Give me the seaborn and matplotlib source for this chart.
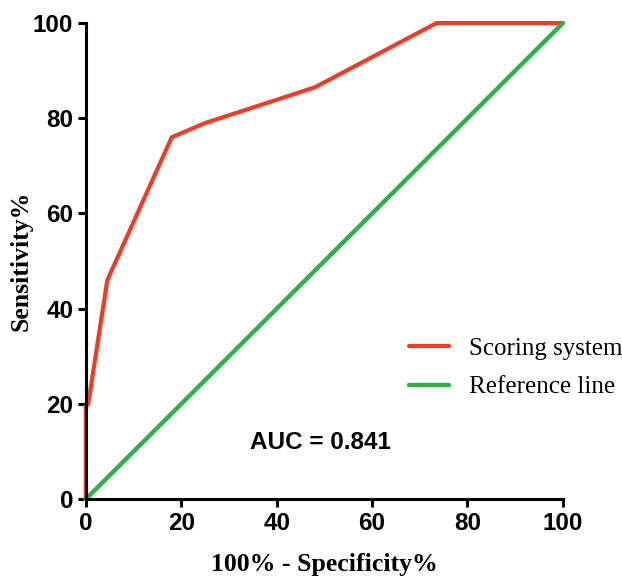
import matplotlib
matplotlib.use('Agg')
import matplotlib.pyplot as plt
import pandas as pd
import seaborn as sbn

# ROC curve values
fpr = [0, 0, 0.5, 4.5, 18, 25, 48, 73.5, 100]
tpr = [0, 19.5, 20, 46, 76, 79, 86.5, 100, 100]
ref_x = [0, 100]
ref_y = [0, 100]
ticks = [0, 20, 40, 60, 80, 100]
auc_text = 'AUC = 0.841'

sbn.set_style('ticks')
plt.rcParams['font.family'] = ['Liberation Sans', 'DejaVu Sans']
plt.rcParams['text.color'] = 'black'
plt.rcParams['axes.labelcolor'] = 'black'
plt.rcParams['xtick.color'] = 'black'
plt.rcParams['ytick.color'] = 'black'
plt.rcParams['axes.edgecolor'] = 'black'

rocDF = pd.DataFrame({'x': fpr, 'y': tpr})
refDF = pd.DataFrame({'x': ref_x, 'y': ref_y})

fig = plt.figure(figsize=(6.22, 5.77), dpi=100)
ax = fig.add_axes([0.138, 0.135, 0.767, 0.825])

sbn.lineplot(data=rocDF, x='x', y='y', sort=False, estimator=None, color='#f23a24',
             linewidth=3, label='Scoring system', ax=ax)
sbn.lineplot(data=refDF, x='x', y='y', sort=False, estimator=None, color='#2fb14a',
             linewidth=3.2, label='Reference line', ax=ax)

ax.set_xlim(0, 100)
ax.set_ylim(0, 100)
ax.set_xticks(ticks)
ax.set_yticks(ticks)
ax.tick_params(width=2.2, length=6, labelsize=17.5, pad=3)
for lab in ax.get_xticklabels() + ax.get_yticklabels():
    lab.set_fontweight('bold')
for s in ['left', 'bottom']:
    ax.spines[s].set_linewidth(2.2)
sbn.despine(ax=ax)
for l in ax.get_lines():
    l.set_clip_on(False)

ax.set_xlabel('100% - Specificity%', family='Liberation Serif', fontweight='bold',
              fontsize=18.5)
ax.set_ylabel('Sensitivity%', family='Liberation Serif', fontweight='bold',
              fontsize=18.5)
ax.xaxis.set_label_coords(0.5, -0.113)
ax.yaxis.set_label_coords(-0.111, 0.5)

ax.text(34.4, 11.8, auc_text, fontsize=17.5, fontweight='bold', va='center', ha='left')

leg = ax.legend(loc='center left', bbox_to_anchor=(0.63, 0.276), frameon=False,
                prop={'family': 'Liberation Serif', 'size': 18},
                handlelength=1.6, handletextpad=0.8, labelspacing=0.65)

fig.savefig('out.png', dpi=100)
